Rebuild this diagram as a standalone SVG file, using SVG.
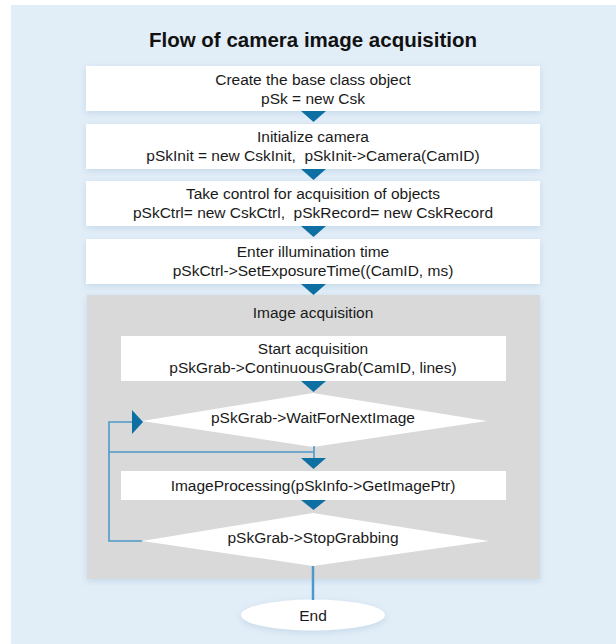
<svg xmlns="http://www.w3.org/2000/svg" width="616" height="644" viewBox="0 0 616 644">
<style>
.t{font-family:"Liberation Sans",Arial,Helvetica,sans-serif;font-size:15.5px;fill:#1a1a1a;text-anchor:middle;white-space:pre}
.title{font-family:"Liberation Sans",Arial,Helvetica,sans-serif;font-size:20.5px;font-weight:bold;fill:#111;text-anchor:middle}
.box{fill:#fff}
.sh{filter:url(#shadow)}
.ln{fill:none;stroke:#4e99c8;stroke-width:1.6}
.ar{fill:#0e6fa3}
</style>
<defs>
<filter id="shadow" x="-10%" y="-30%" width="120%" height="160%">
<feDropShadow dx="0" dy="2" stdDeviation="3" flood-color="#a9c4dc" flood-opacity="0.5"/>
</filter>
</defs>
<rect x="11" y="5" width="605" height="639" fill="#e1edf7"/>
<text class="title" x="313" y="47">Flow of camera image acquisition</text>

<g id="n1"><rect class="box sh" x="86" y="66" width="454" height="45"/>
<text class="t" x="313" y="85">Create the base class object</text>
<text class="t" x="313" y="104">pSk = new Csk</text></g>

<g id="n2"><rect class="box sh" x="86" y="124" width="454" height="45"/>
<text class="t" x="313" y="142">Initialize camera</text>
<text class="t" x="313" y="161" xml:space="preserve">pSkInit = new CskInit,  pSkInit-&gt;Camera(CamID)</text></g>

<g id="n3"><rect class="box sh" x="86" y="181" width="454" height="45"/>
<text class="t" x="313" y="199">Take control for acquisition of objects</text>
<text class="t" x="313" y="218" xml:space="preserve">pSkCtrl= new CskCtrl,  pSkRecord= new CskRecord</text></g>

<g id="n4"><rect class="box sh" x="86" y="239" width="454" height="45"/>
<text class="t" x="313" y="257">Enter illumination time</text>
<text class="t" x="313" y="276">pSkCtrl-&gt;SetExposureTime((CamID, ms)</text></g>

<g id="group"><rect class="sh" x="87" y="295" width="453" height="284" fill="#d9d9d9"/>
<text class="t" x="313" y="318">Image acquisition</text></g>

<g id="n5"><rect class="box" x="121" y="336" width="385" height="45"/>
<text class="t" x="313" y="354">Start acquisition</text>
<text class="t" x="313" y="373">pSkGrab-&gt;ContinuousGrab(CamID, lines)</text></g>

<g id="n6"><polygon class="box" points="313,393 487,421 313,447 142,421"/>
<text class="t" x="313" y="423">pSkGrab-&gt;WaitForNextImage</text></g>

<g id="n7"><rect class="box" x="121" y="471" width="385" height="29"/>
<text class="t" x="313" y="491">ImageProcessing(pSkInfo-&gt;GetImagePtr)</text></g>

<g id="n8"><polygon class="box" points="313,513 489,541 313,566 142,541"/>
<text class="t" x="313" y="543">pSkGrab-&gt;StopGrabbing</text></g>

<g id="n9"><ellipse class="box sh" cx="313" cy="615" rx="72" ry="15.5"/>
<text class="t" x="313" y="621">End</text></g>

<g id="connectors">
<polygon class="ar" points="301,111 326,111 313.5,122"/>
<polygon class="ar" points="301,169 326,169 313.5,180"/>
<polygon class="ar" points="301,226 326,226 313.5,237"/>
<polygon class="ar" points="301,284 326,284 313.5,295"/>
<polygon class="ar" points="301,381 326,381 313.5,392"/>
<polyline class="ln" points="314,446 314,459"/>
<polyline class="ln" points="314,452 109,452"/>
<polygon class="ar" points="301,458 326,458 313.5,469"/>
<polygon class="ar" points="301,500 326,500 313.5,510"/>
<polyline class="ln" points="142,541 109,541 109,422 133,422"/>
<polygon class="ar" points="132,410 143,422 132,434"/>
<line x1="313" y1="566" x2="313" y2="600" stroke="#4e99c8" stroke-width="2.5"/>
</g>
</svg>
